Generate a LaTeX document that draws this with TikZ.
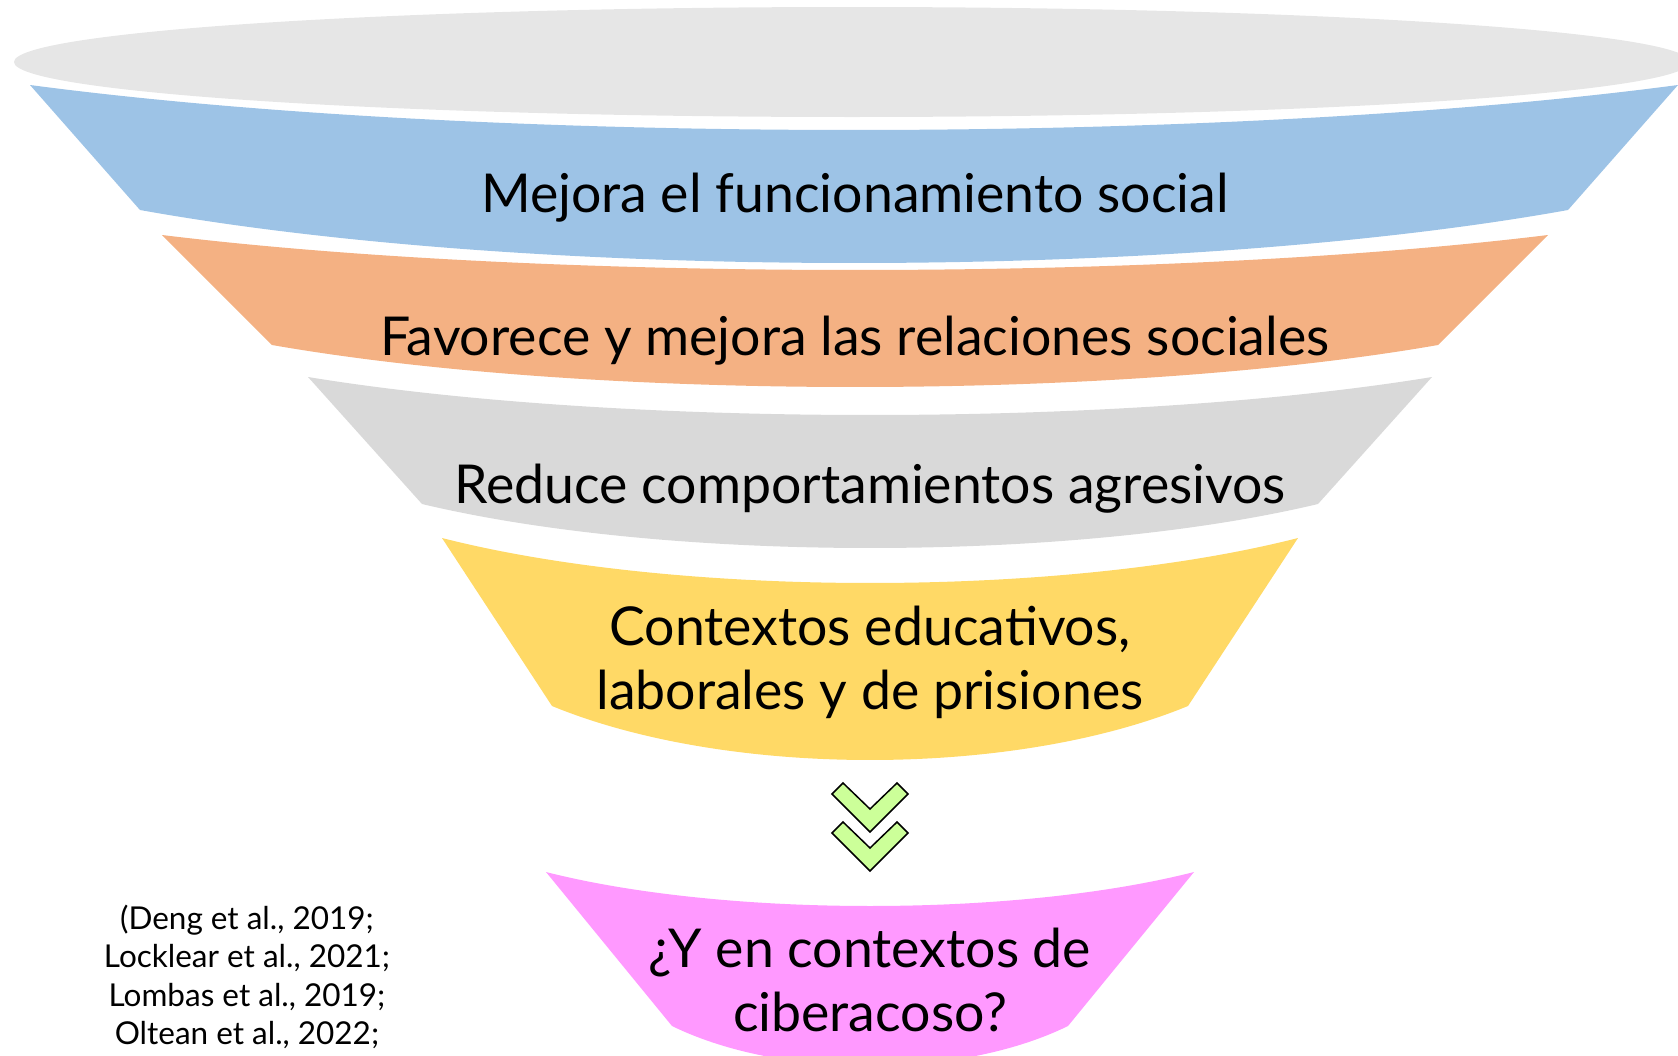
\documentclass[tikz,border=0pt]{standalone}
\usepackage{fontspec}
\setmainfont{Lato}

\definecolor{rimgray}{HTML}{E6E6E6}
\definecolor{bandblue}{HTML}{9DC3E6}
\definecolor{bandorange}{HTML}{F4B183}
\definecolor{bandgray}{HTML}{D9D9D9}
\definecolor{bandyellow}{HTML}{FFD966}
\definecolor{bandpink}{HTML}{FF99FF}
\definecolor{chevgreen}{HTML}{CCFF99}

\begin{document}
\begin{tikzpicture}[%
		x=1pt, y=-1pt,
		label/.style={%
			align=center,
			inner sep=0pt,
			font=\fontsize{53.6}{64}\selectfont
		},
		refs/.style={%
			align=center,
			inner sep=0pt,
			font=\fontsize{31.5}{38.5}\selectfont
		},
		chevron/.style={%
			fill=chevgreen,
			draw=black,
			line width=1.5pt,
			line join=miter
		}
	]

	\useasboundingbox (0,0) rectangle (1678,1055);

	% rim of the funnel
	\fill[rimgray] (852,62) ellipse [x radius=838, y radius=55];

	% bands: colour / centre / top y / top half width / top sag / bottom y / bottom half width / bottom sag
	\foreach \col/\cx/\ty/\thw/\tsag/\by/\bhw/\bsag in {%
			bandblue/854/85/824/45/210/714/53,
			bandorange/855/235/693/35/345/583/42,
			bandgray/870/377/562/38/504/448/44,
			bandyellow/870/538/428/45/706/318/54,
			bandpink/870/872/324/34/1026/198/40%
		}{%
		\fill[\col] (\cx-\thw,\ty)
			.. controls (\cx-0.45*\thw,\ty+1.333*\tsag) and (\cx+0.45*\thw,\ty+1.333*\tsag) .. (\cx+\thw,\ty)
			-- (\cx+\bhw,\by)
			.. controls (\cx+0.45*\bhw,\by+1.333*\bsag) and (\cx-0.45*\bhw,\by+1.333*\bsag) .. (\cx-\bhw,\by)
			-- cycle;
	}

	\node[label, anchor=base] (mejora) at (855,212) {Mejora el funcionamiento social};
	\node[label, anchor=base] (favorece) at (855,355) {Favorece y mejora las relaciones sociales};
	\node[label, anchor=base] (reduce) at (870,503) {Reduce comportamientos agresivos};
	\node[label] (contextos) at (870,662) {Contextos educativos,\\laborales y de prisiones};

	% double chevron
	\foreach \dy in {0,39}
		\filldraw[chevron] (832,794+\dy) -- (843,783+\dy) -- (870,809+\dy) -- (897,783+\dy)
			-- (908,794+\dy) -- (870,832+\dy) -- cycle;

	\node[label] (ciber) at (870,980) {¿Y en contextos de\\ciberacoso?};

	\node[refs] (citas) at (247,977) {(Deng et al., 2019;\\Locklear et al., 2021;\\Lombas et al., 2019;\\Oltean et al., 2022;};
\end{tikzpicture}
\end{document}
